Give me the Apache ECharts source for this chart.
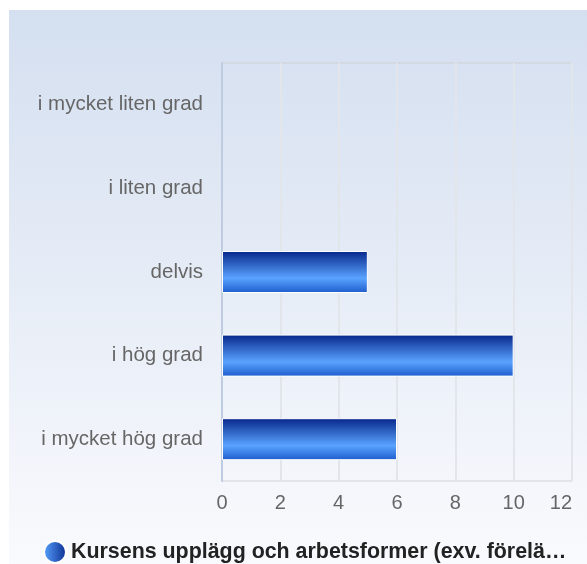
<!DOCTYPE html>
<html>
<head>
<meta charset="utf-8">
<script src="https://cdn.jsdelivr.net/npm/echarts@6/dist/echarts.min.js"></script>
<style>
  html, body { margin: 0; padding: 0; background: #fff; }
  #chart { width: 587px; height: 564px; }
</style>
</head>
<body>
<div id="chart"></div>
<script>
// data
const categories = ['i mycket liten grad', 'i liten grad', 'delvis', 'i hög grad', 'i mycket hög grad'];
const values = [0, 0, 5, 10, 6];
const seriesName = 'Kursens upplägg och arbetsformer (exv. förelä…';

let chart = echarts.init(document.getElementById('chart'));

const barColor = new echarts.graphic.LinearGradient(0, 0, 0, 1, [
    { offset: 0, color: '#06268a' },
    { offset: 0.65, color: '#5aa3ff' },
    { offset: 1, color: '#1d5ccc' }
]);

// no white border on empty bars
let barData = values.map(function (v) {
    return v === 0 ? { value: v, itemStyle: { borderWidth: 0 } } : v;
});

option = {
    animation: false,
    textStyle: { fontFamily: 'Liberation Sans, Arial, sans-serif' },
    graphic: [{
        type: 'rect',
        z: -10,
        shape: { x: 9, y: 10, width: 578, height: 554 },
        style: {
            fill: new echarts.graphic.LinearGradient(0, 0, 0, 1, [
                { offset: 0, color: '#d4dff0' },
                { offset: 1, color: '#f9fafd' }
            ])
        }
    }],
    grid: {
        left: 222, top: 63, right: 15, bottom: 83,
        show: true, borderColor: '#d0d2d6', borderWidth: 1,
        backgroundColor: 'transparent'
    },
    xAxis: {
        type: 'value',
        min: 0, max: 12, interval: 2,
        axisLine: { show: false },
        axisTick: { show: false },
        axisLabel: { color: '#666', fontSize: 20, margin: 12, alignMaxLabel: 'right' },
        splitLine: { lineStyle: { color: '#e2e5ea', width: 2 } }
    },
    yAxis: {
        type: 'category',
        inverse: true,
        data: categories,
        axisLine: { show: true, lineStyle: { color: '#bfcbe0', width: 2 } },
        axisTick: { show: false },
        axisLabel: { color: '#666', fontSize: 20.5, margin: 19 }
    },
    legend: {
        left: 38, top: 535,
        icon: 'circle',
        itemWidth: 22, itemHeight: 22, itemGap: 9,
        textStyle: { color: '#222', fontSize: 21.4, fontWeight: 'bold' },
        data: [{
            name: seriesName,
            itemStyle: {
                color: new echarts.graphic.LinearGradient(0, 0, 1, 0, [
                    { offset: 0, color: '#5aa3ff' },
                    { offset: 1, color: '#0a2c90' }
                ])
            }
        }]
    },
    series: [{
        name: seriesName,
        type: 'bar',
        data: barData,
        barWidth: 42,
        itemStyle: { color: barColor, borderColor: '#fff', borderWidth: 1 }
    }]
};
chart.setOption(option);
</script>
</body>
</html>
